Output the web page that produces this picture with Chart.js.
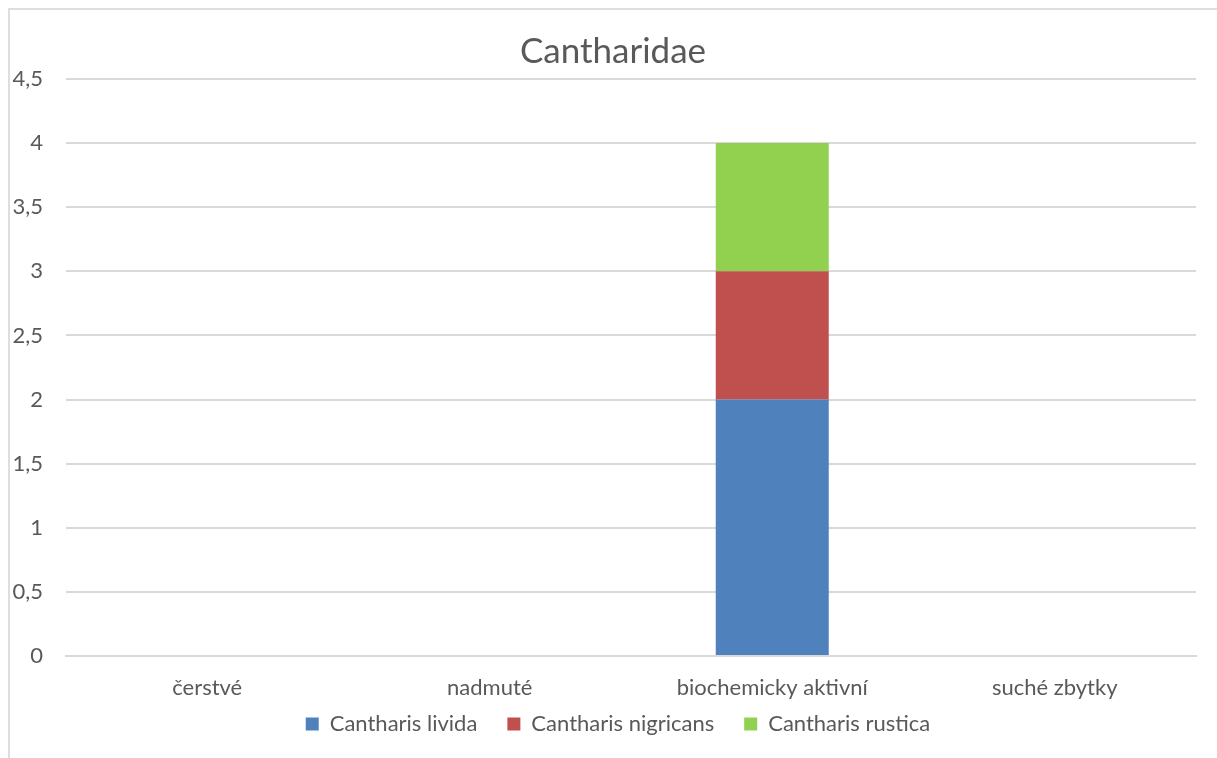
<!DOCTYPE html>
<html>
<head>
<meta charset="utf-8">
<script src="https://cdn.jsdelivr.net/npm/chart.js@4.4.0/dist/chart.umd.min.js"></script>
<style>
  html, body { margin: 0; padding: 0; background: #fff; }
  #wrap { position: relative; width: 1217px; height: 758px; overflow: hidden; }
  #frame {
    position: absolute; left: 8px; top: 8px; width: 1300px; height: 900px;
    border: 2px solid #dedede; box-sizing: border-box;
  }
  canvas { position: absolute; left: 0; top: 0; }
</style>
</head>
<body>
<div id="wrap">
  <div id="frame"></div>
  <canvas id="graf" width="1217" height="758"></canvas>
</div>
<script>
// stadia rozkladu
const stadia = ["čerstvé", "nadmuté", "biochemicky aktivní", "suché zbytky"];

// počty jedinců podle druhu
const livida = [0, 0, 2, 0];
const nigricans = [0, 0, 1, 0];
const rustica = [0, 0, 1, 0];

const osaY = [0, 0.5, 1, 1.5, 2, 2.5, 3, 3.5, 4, 4.5];

const sedaText = "#595959";
const pismo = "Lato, 'Noto Sans', sans-serif";

function sloupec(nazev, data, barva) {
  return {
    label: nazev,
    data: data,
    backgroundColor: barva,
    borderWidth: 0,
    categoryPercentage: 0.4,
    barPercentage: 1.0,
  };
}

// legenda má velké vodorovné mezery, ale má sedět těsně pod popisky osy x;
// nadpis i legenda jsou centrované na celý rámeček, ne jen na graf
const posunBloku = {
  id: "posunBloku",
  afterLayout(chart) {
    const l = chart.legend;
    l.top -= 37;
    l.left += 20;
    l.right += 20;
    const t = chart.titleBlock;
    t.left += 15;
    t.right += 15;
  },
};

new Chart(document.getElementById("graf"), {
  type: "bar",
  data: {
    labels: stadia,
    datasets: [
      sloupec("Cantharis livida", livida, "#4f81bd"),
      sloupec("Cantharis nigricans", nigricans, "#c0504d"),
      sloupec("Cantharis rustica", rustica, "#92d050"),
    ],
  },
  plugins: [posunBloku],
  options: {
    responsive: false,
    animation: false,
    devicePixelRatio: 1,
    layout: { padding: { top: 16, right: 21, bottom: 0, left: 0 } },
    scales: {
      x: {
        stacked: true,
        grid: { display: false, drawTicks: false },
        border: { display: true, color: "#d9d9d9", width: 2 },
        ticks: {
          color: sedaText,
          font: { family: pismo, size: 22, lineHeight: 1 },
          padding: 21,
        },
      },
      y: {
        stacked: true,
        min: 0,
        max: 4.5,
        afterFit: (osa) => { osa.width = 66; },
        afterBuildTicks: (osa) => { osa.ticks = osaY.map((v) => ({ value: v })); },
        grid: { color: "#d9d9d9", lineWidth: 2, drawTicks: false },
        border: { display: false },
        ticks: {
          color: sedaText,
          padding: 23,
          font: { family: pismo, size: 22 },
          callback: (v) => String(v).replace(".", ","),
        },
      },
    },
    plugins: {
      title: {
        display: true,
        text: "Cantharidae",
        color: sedaText,
        font: { family: pismo, size: 35, weight: "normal" },
        padding: { top: 15, bottom: 6 },
      },
      legend: {
        position: "bottom",
        maxHeight: 38,
        labels: {
          color: sedaText,
          font: { family: pismo, size: 22 },
          boxWidth: 13,
          boxHeight: 13,
          padding: 30,
        },
      },
      tooltip: { enabled: false },
    },
  },
});
</script>
</body>
</html>
